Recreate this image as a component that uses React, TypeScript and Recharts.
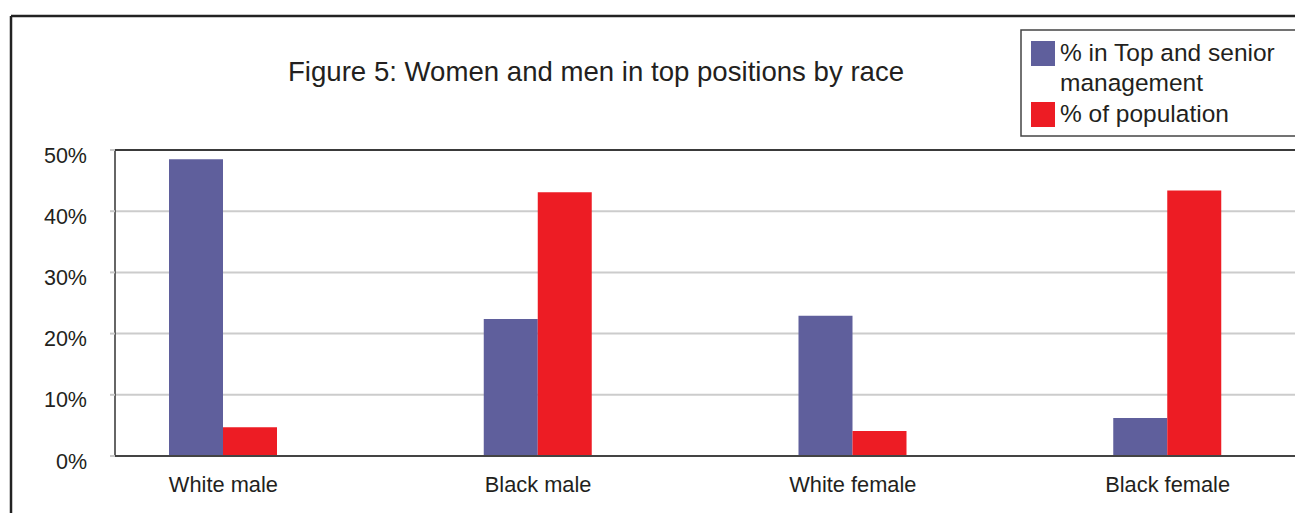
import React from "react";
import { BarChart, Bar, XAxis, YAxis, CartesianGrid, ReferenceLine } from "recharts";

const GROUPS = ["White male", "Black male", "White female", "Black female"];
const TOP_SENIOR_PCT = [48.5, 22.4, 22.9, 6.2];
const POPULATION_PCT = [4.7, 43.1, 4.1, 43.4];
const Y_TICKS = [0, 10, 20, 30, 40, 50];

const TITLE = "Figure 5: Women and men in top positions by race";
const SERIES = [
  { key: "topSenior", lines: ["% in Top and senior", "management"], color: "#5f5f9c" },
  { key: "population", lines: ["% of population"], color: "#ed1c24" },
];

const FONT = "'Liberation Sans', Arial, Helvetica, sans-serif";
const INK = "#231f20";

const data = GROUPS.map((group, i) => ({
  group,
  topSenior: TOP_SENIOR_PCT[i],
  population: POPULATION_PCT[i],
}));

export default function App() {
  return (
    <div
      style={{
        position: "fixed",
        left: 0,
        top: 0,
        width: 1295,
        height: 513,
        overflow: "hidden",
        background: "#fff",
        fontFamily: FONT,
      }}
    >
      <div style={{ position: "absolute", left: 0, top: 0 }}>
        <BarChart
          width={1325}
          height={513}
          data={data}
          margin={{ top: 150, right: 0, left: 0, bottom: 7 }}
          barGap={0}
        >
          <CartesianGrid vertical={false} stroke="#cccccc" strokeWidth={2} />
          <XAxis
            dataKey="group"
            padding={{ left: -49, right: 0 }}
            axisLine={{ stroke: "#444", strokeWidth: 2 }}
            tickLine={false}
            tickSize={0}
            tickMargin={21}
            height={50}
            interval={0}
            tick={{ fontSize: 21.8, fill: INK, fontFamily: FONT }}
          />
          <YAxis
            width={115}
            domain={[0, 50]}
            ticks={Y_TICKS}
            tickFormatter={(v) => `${v}%`}
            axisLine={{ stroke: "#333", strokeWidth: 1.5 }}
            tickLine={{ stroke: "#c8c8c8", strokeWidth: 2 }}
            tickSize={5}
            tickMargin={23}
            tick={{ fontSize: 21.5, fill: INK, fontFamily: FONT, dy: 5 }}
          />
          <ReferenceLine y={50} stroke="#3a3a3a" strokeWidth={2} />
          {SERIES.map((s) => (
            <Bar
              key={s.key}
              dataKey={s.key}
              fill={s.color}
              barSize={54}
              isAnimationActive={false}
            />
          ))}
        </BarChart>
      </div>

      {/* frame, title and legend box */}
      <svg
        width={1295}
        height={513}
        style={{ position: "absolute", left: 0, top: 0, pointerEvents: "none" }}
      >
        <line x1={11} y1={16} x2={1295} y2={16} stroke="#222" strokeWidth={2.5} />
        <line x1={11} y1={16} x2={11} y2={513} stroke="#222" strokeWidth={2.5} />
        <text x={288} y={81} fontSize={27.6} fill={INK} fontFamily={FONT}>
          {TITLE}
        </text>
        <rect x={1021} y={30} width={320} height={106} fill="#fff" stroke="#444" strokeWidth={1.5} />
        {SERIES.map((s, i) => {
          const top = i === 0 ? 41 : 102;
          return (
            <g key={s.key}>
              <rect x={1031} y={top} width={24} height={25} fill={s.color} />
              {s.lines.map((line, j) => (
                <text
                  key={line}
                  x={1060}
                  y={top + 20 + j * 30}
                  fontSize={24.5}
                  fill={INK}
                  fontFamily={FONT}
                >
                  {line}
                </text>
              ))}
            </g>
          );
        })}
      </svg>
    </div>
  );
}
